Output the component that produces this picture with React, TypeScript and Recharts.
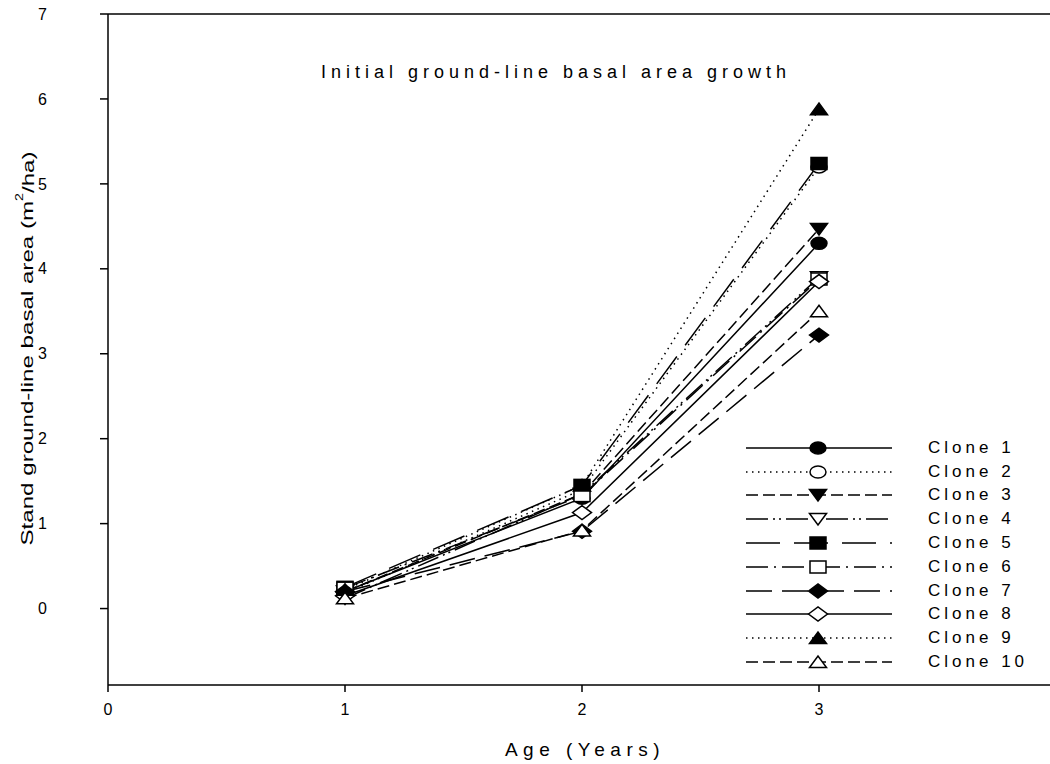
import React from "react";
import { Line, LineChart, ReferenceLine, XAxis, YAxis } from "recharts";

// Stand ground-line basal area (m2/ha) by age, one array per clone
const AGES = [1, 2, 3];
const CLONE_1 = [0.2, 1.3, 4.3];
const CLONE_2 = [0.18, 1.4, 5.2];
const CLONE_3 = [0.2, 1.35, 4.47];
const CLONE_4 = [0.12, 1.35, 3.9];
const CLONE_5 = [0.25, 1.45, 5.24];
const CLONE_6 = [0.24, 1.33, 3.88];
const CLONE_7 = [0.2, 0.91, 3.22];
const CLONE_8 = [0.15, 1.13, 3.85];
const CLONE_9 = [0.22, 1.45, 5.88];
const CLONE_10 = [0.12, 0.92, 3.5];

const X_TICKS = [0, 1, 2, 3, 4];
const Y_TICKS = [0, 1, 2, 3, 4, 5, 6, 7];

const TITLE = "Initial ground-line basal area growth";
const X_LABEL = "Age (Years)";

type Marker = "circle" | "triDown" | "square" | "diamond" | "triUp";

const SERIES: { key: string; name: string; values: number[]; dash?: string; marker: Marker; filled: boolean }[] = [
  { key: "c1", name: "Clone 1", values: CLONE_1, marker: "circle", filled: true },
  { key: "c2", name: "Clone 2", values: CLONE_2, dash: "1.5 4.5", marker: "circle", filled: false },
  { key: "c3", name: "Clone 3", values: CLONE_3, dash: "12 5", marker: "triDown", filled: true },
  { key: "c4", name: "Clone 4", values: CLONE_4, dash: "22 5 2 4 2 5", marker: "triDown", filled: false },
  { key: "c5", name: "Clone 5", values: CLONE_5, dash: "34 14", marker: "square", filled: true },
  { key: "c6", name: "Clone 6", values: CLONE_6, dash: "22 6 2 6", marker: "square", filled: false },
  { key: "c7", name: "Clone 7", values: CLONE_7, dash: "26 10", marker: "diamond", filled: true },
  { key: "c8", name: "Clone 8", values: CLONE_8, marker: "diamond", filled: false },
  { key: "c9", name: "Clone 9", values: CLONE_9, dash: "1.5 4.5", marker: "triUp", filled: true },
  { key: "c10", name: "Clone 10", values: CLONE_10, dash: "12 5", marker: "triUp", filled: false },
];

const rows = AGES.map((age, i) => {
  const r: Record<string, number> = { age };
  SERIES.forEach((s) => (r[s.key] = s.values[i]));
  return r;
});

const FONT = "'Liberation Sans', Arial, sans-serif";
const INK = "#000";

function MarkerShape({ cx, cy, kind, filled }: { cx: number; cy: number; kind: Marker; filled: boolean }) {
  const fill = filled ? INK : "#fff";
  const common = { fill, stroke: INK, strokeWidth: 1.5 };
  switch (kind) {
    case "circle":
      return <ellipse cx={cx} cy={cy} rx={8} ry={6} {...common} />;
    case "square":
      return <rect x={cx - 8} y={cy - 6} width={16} height={12} {...common} />;
    case "diamond":
      return <polygon points={`${cx - 9.5},${cy} ${cx},${cy - 7} ${cx + 9.5},${cy} ${cx},${cy + 7}`} {...common} />;
    case "triUp":
      return <polygon points={`${cx - 8.5},${cy + 5.5} ${cx + 8.5},${cy + 5.5} ${cx},${cy - 6}`} {...common} />;
    case "triDown":
      return <polygon points={`${cx - 8.5},${cy - 5.5} ${cx + 8.5},${cy - 5.5} ${cx},${cy + 6}`} {...common} />;
  }
}

function CloneLegend() {
  return (
    <div style={{ position: "absolute", left: 746, top: 436, fontFamily: FONT }}>
      {SERIES.map((s) => (
        <div key={s.key} style={{ display: "flex", alignItems: "center", height: 23.8 }}>
          <svg width={146} height={20} style={{ display: "block" }}>
            <line x1={0} x2={146} y1={10} y2={10} stroke={INK} strokeWidth={1.5} strokeDasharray={s.dash} />
            <MarkerShape cx={72} cy={10} kind={s.marker} filled={s.filled} />
          </svg>
          <span style={{ marginLeft: 36, fontSize: 17, letterSpacing: 4, color: INK, whiteSpace: "nowrap" }}>{s.name}</span>
        </div>
      ))}
    </div>
  );
}

// axis title is drawn stretched along its run, as in the original figure
function YTitle(props: any) {
  const vb = props.viewBox ?? { x: 0, y: 0, width: 0, height: 0 };
  const x = vb.x + 27;
  const y = vb.y + vb.height / 2 - 1;
  return (
    <text transform={`translate(${x} ${y}) rotate(-90) scale(1.42 1)`} textAnchor="middle" dominantBaseline="central"
      style={{ fontFamily: FONT, fontSize: 17, fill: INK }}>
      Stand ground-line basal area (m
      <tspan dy={-7} fontSize={10}>2</tspan>
      <tspan dy={7}>/ha)</tspan>
    </text>
  );
}

export default function App() {
  const tick = { fontFamily: FONT, fontSize: 16, fill: INK };
  return (
    <div style={{ position: "absolute", left: 0, top: 0, width: 1050, height: 764, overflow: "hidden", background: "#fff" }}>
      <LineChart width={1060} height={764} data={rows} margin={{ top: 14, right: 4, bottom: 0, left: 0 }}>
        <XAxis
          dataKey="age"
          type="number"
          domain={[0, 4]}
          ticks={X_TICKS}
          tick={tick}
          tickSize={7}
          tickMargin={12}
          height={79}
          stroke={INK}
          strokeWidth={1.5}
          tickLine={{ stroke: INK, strokeWidth: 1.5 }}
        />
        <YAxis
          type="number"
          domain={[-0.9, 7]}
          ticks={Y_TICKS}
          allowDataOverflow
          tick={tick}
          tickSize={8}
          tickMargin={53}
          width={108}
          stroke={INK}
          strokeWidth={1.5}
          tickLine={{ stroke: INK, strokeWidth: 1.5 }}
          label={<YTitle />}
        />
        <ReferenceLine y={7} stroke={INK} strokeWidth={1.5} />
        {SERIES.map((s) => (
          <Line
            key={s.key}
            dataKey={s.key}
            name={s.name}
            type="linear"
            stroke={INK}
            strokeWidth={1.5}
            strokeDasharray={s.dash}
            dot={(p: any) => <MarkerShape key={`${s.key}-${p.index}`} cx={p.cx} cy={p.cy} kind={s.marker} filled={s.filled} />}
            activeDot={false}
            isAnimationActive={false}
          />
        ))}
      </LineChart>
      <CloneLegend />
      <div style={{ position: "absolute", left: 0, top: 62, width: 1112, textAlign: "center", fontFamily: FONT, fontSize: 18, letterSpacing: 5, color: INK }}>
        {TITLE}
      </div>
      <div style={{ position: "absolute", left: 0, top: 739, width: 1170, textAlign: "center", fontFamily: FONT, fontSize: 19, letterSpacing: 5.5, color: INK }}>
        {X_LABEL}
      </div>
    </div>
  );
}
